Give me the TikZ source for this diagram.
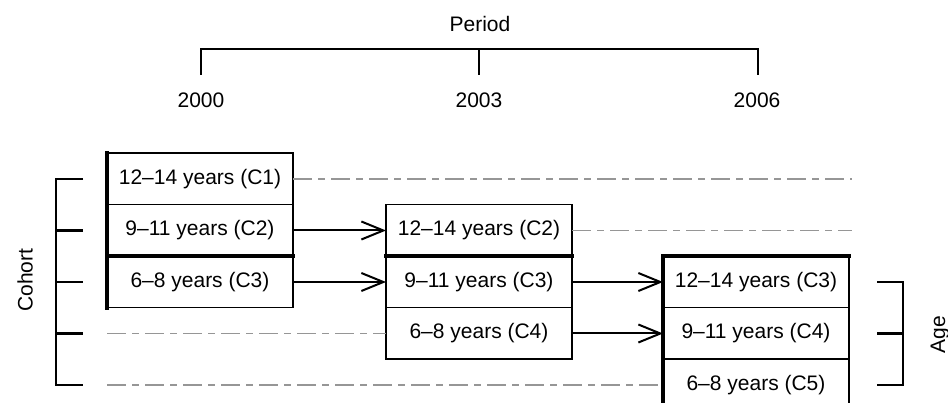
\documentclass[tikz,border=0pt]{standalone}
\usepackage{fontspec}
\setmainfont{Liberation Sans}
\usetikzlibrary{positioning,arrows.meta}
\definecolor{GridGray}{RGB}{150,150,150}
\tikzset{
  agebox/.style={draw,line width=1.5pt,minimum width=186pt,minimum height=51.5pt,
                 inner sep=0pt,outer sep=0pt,font=\fontsize{21}{25}\selectfont},
  lbl/.style={font=\fontsize{21}{25}\selectfont},
  thickedge/.style={line width=4pt,line cap=rect},
  arr/.style={-{Straight Barb[length=22pt,width=18pt]},line width=2pt},
  cline/.style={GridGray,line width=1.7pt,dash pattern=on 19pt off 6pt on 7pt off 6pt},
  brack/.style={line width=2.5pt},
}
\begin{document}
\begin{tikzpicture}[x=1pt,y=-1pt]
  \useasboundingbox (0,0) rectangle (948,403);
  \clip (0,0) rectangle (948,403);
  % period axis
  \node[lbl] (period) at (480,24) {Period};
  \node[lbl] (y2000) at (201,100) {2000};
  \node[lbl] (y2003) at (479,100) {2003};
  \node[lbl] (y2006) at (757,100) {2006};
  \draw[brack] (201,75) -- (201,49) -- (758,49) -- (758,75);
  \draw[brack] (479,49) -- (479,75);
  % age groups per wave
  \node[agebox] (a1) at (200,179) {12--14 years (C1)};
  \node[agebox,below=0pt of a1] (a2) {9--11 years (C2)};
  \node[agebox,below=0pt of a2] (a3) {6--8 years (C3)};
  \node[agebox,right=93pt of a2] (b1) {12--14 years (C2)};
  \node[agebox,below=0pt of b1] (b2) {9--11 years (C3)};
  \node[agebox,below=0pt of b2] (b3) {6--8 years (C4)};
  \node[agebox,right=91pt of b2] (c1) {12--14 years (C3)};
  \node[agebox,below=0pt of c1] (c2) {9--11 years (C4)};
  \node[agebox,below=0pt of c2] (c3) {6--8 years (C5)};
  \draw[thickedge] (a1.north west) -- (a3.south west);
  \draw[thickedge] (a2.south west) -- (a2.south east);
  \draw[thickedge] (b1.south west) -- (b1.south east);
  \draw[thickedge] (c1.north west) -- (c1.north east);
  \draw[thickedge] (c1.north west) -- (c3.south west);
  % cohorts moving on
  \draw[arr] (a2) -- (b1);
  \draw[arr] (a3) -- (b2);
  \draw[arr] (b2) -- (c1);
  \draw[arr] (b3) -- (c2);
  % cohort lines
  \coordinate (rend) at (852,0);
  \coordinate (lend) at (107,0);
  \draw[cline] (a1) -- (a1 -| rend);
  \draw[cline] (b1) -- (b1 -| rend);
  \draw[cline] (b3 -| lend) -- (b3);
  \draw[cline] (c3 -| lend) -- (c3);
  % cohort bracket
  \coordinate (cbar) at (56,0);
  \coordinate (ctick) at (83,0);
  \draw[brack] (a1 -| ctick) -- (a1 -| cbar) -- (c3 -| cbar) -- (c3 -| ctick);
  \draw[brack] (a2 -| cbar) -- (a2 -| ctick);
  \draw[brack] (a3 -| cbar) -- (a3 -| ctick);
  \draw[brack] (b3 -| cbar) -- (b3 -| ctick);
  \node[lbl,rotate=90] (cohort) at (25,280) {Cohort};
  % age bracket
  \coordinate (abar) at (903,0);
  \coordinate (atick) at (877,0);
  \draw[brack] (c1 -| atick) -- (c1 -| abar) -- (c3 -| abar) -- (c3 -| atick);
  \draw[brack] (c2 -| abar) -- (c2 -| atick);
  \node[lbl,rotate=90] (age) at (940,335) {Age};
\end{tikzpicture}
\end{document}
